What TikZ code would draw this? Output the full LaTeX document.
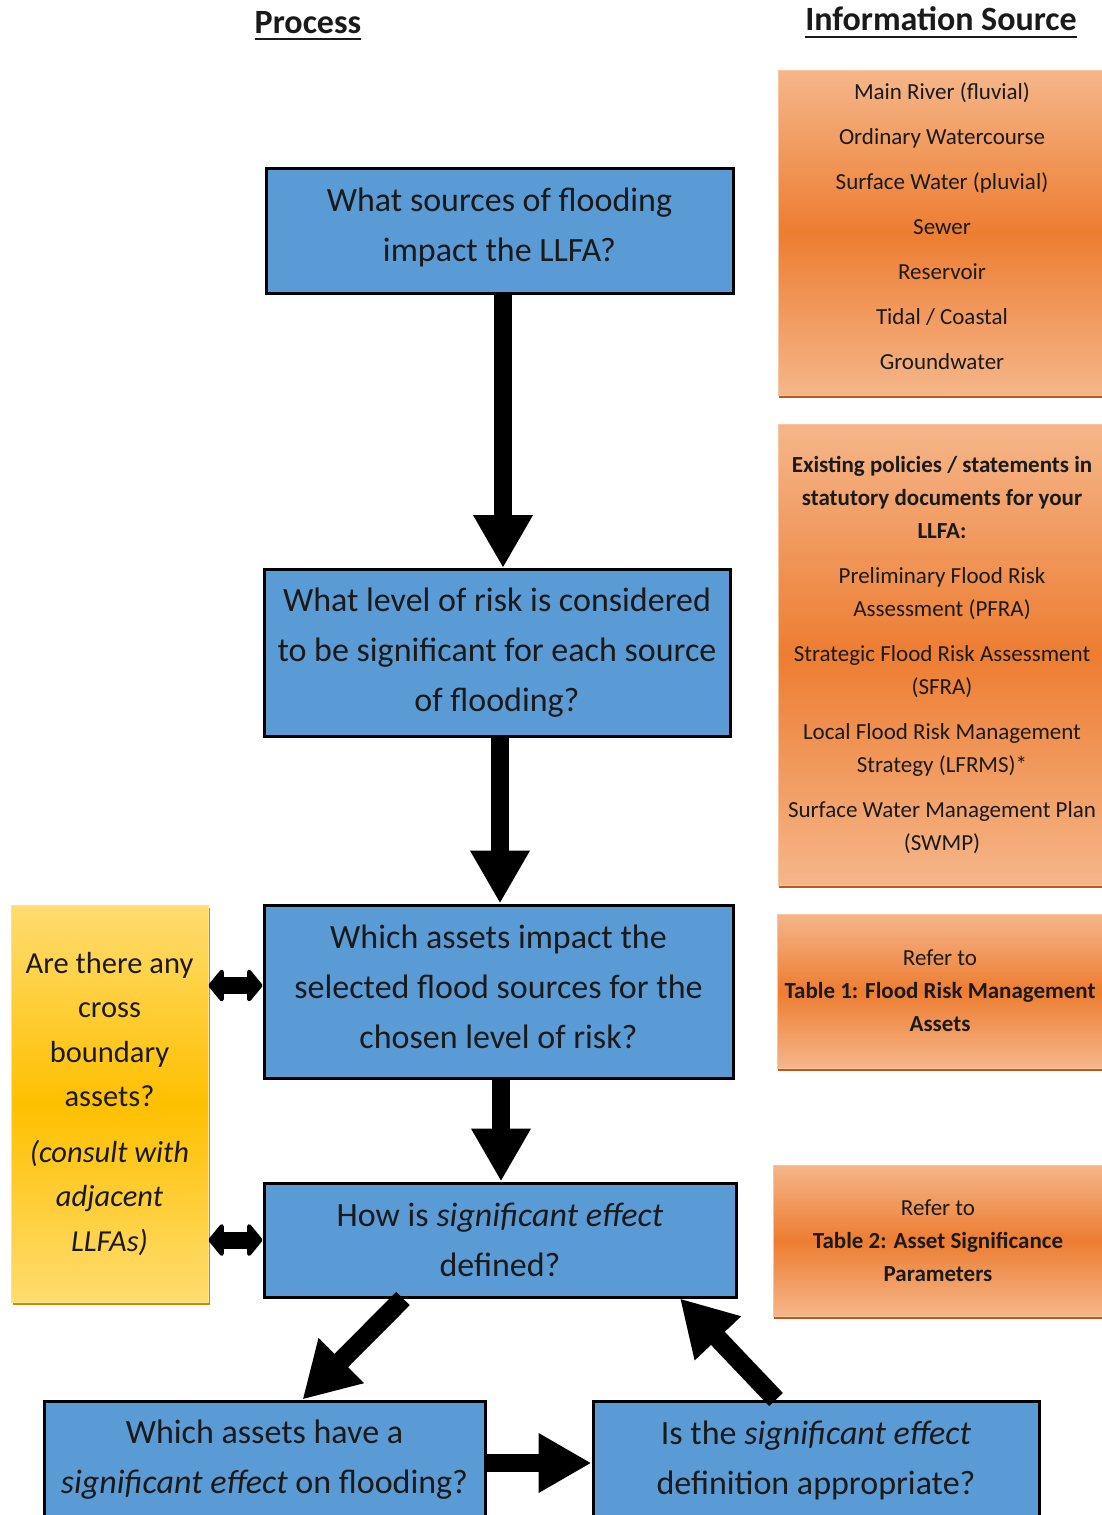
\documentclass[tikz,border=0pt]{standalone}
\usepackage{fontspec}
\setmainfont{Carlito}
\usetikzlibrary{arrows.meta,shadows,calc}
\definecolor{blueF}{HTML}{5B9BD5}
\definecolor{orL}{HTML}{F5B68A}
\definecolor{orD}{HTML}{ED7D31}
\definecolor{orS}{HTML}{B85A1E}
\definecolor{yeL}{HTML}{FFDC70}
\definecolor{yeD}{HTML}{FFC000}
\definecolor{yeS}{HTML}{C09000}
\definecolor{txt}{HTML}{1A1A1A}
\begin{document}
\begin{tikzpicture}[x=1pt,y=-1pt,
  bluebox/.style={draw=black, line width=3pt, fill=blueF, align=center, inner sep=0pt, text=txt,
     font=\fontsize{34}{50}\selectfont},
  bluetext/.style={align=center, inner sep=0pt, text=txt, font=\fontsize{34}{50}\selectfont},
  orbox/.style={draw=orL!80!white, line width=0.8pt, top color=orL, bottom color=orL, middle color=orD,
     align=center, inner sep=0pt, text=txt, font=\fontsize{23}{33}\selectfont,
     drop shadow={shadow xshift=1pt, shadow yshift=-3pt, fill=orS, opacity=1}},
  ortext/.style={align=center, inner sep=0pt, text=txt, font=\fontsize{23}{45}\selectfont},
  yebox/.style={draw=yeL!80!white, line width=0.8pt, top color=yeL, bottom color=yeL, middle color=yeD,
     align=center, inner sep=0pt, text=txt, font=\fontsize{30.5}{44.5}\selectfont,
     drop shadow={shadow xshift=1.5pt, shadow yshift=-3pt, fill=yeS, opacity=1}},
  head/.style={font=\fontsize{34}{40}\selectfont\bfseries, text=txt, inner sep=0pt, anchor=base},
  uline/.style={draw=txt, line width=2.6pt},
  bigarrow/.style={draw=black, line width=18pt, -{Triangle[length=53pt,width=56pt]}},
  diagarrow/.style={draw=black, line width=19pt, -{Triangle[length=55pt,width=60pt]}},
  dblarrow/.style={draw=black, line width=17pt,
     {Triangle[length=16pt,width=38pt,round]}-{Triangle[length=16pt,width=38pt,round]}}
]
\useasboundingbox (0,0) rectangle (1102,1515);
\clip (0,0) rectangle (1102,1515);
\fill[white] (0,0) rectangle (1102,1515);

% headers
\node[head] (hp) at (308,33) {Process};
\draw[uline] ($(hp.base west)+(0,6)$) -- ($(hp.base east)+(0,6)$);
\node[head] (hi) at (941,30) {Information Source};
\draw[uline] ($(hi.base west)+(0,7)$) -- ($(hi.base east)+(0,7)$);

% orange info boxes
\node[orbox, minimum width=328, minimum height=325] (O1) at (942,232.5) {};
\node[ortext] (O1t) at (942,226)
 {Main River (fluvial)\\Ordinary Watercourse\\Surface Water (pluvial)\\Sewer\\Reservoir\\Tidal / Coastal\\Groundwater};

\node[orbox, minimum width=328, minimum height=461] (O2) at (942,654.5)
 {\textbf{Existing policies / statements in}\\\textbf{statutory documents for your}\\\textbf{LLFA:}\\[12pt]
  Preliminary Flood Risk\\Assessment (PFRA)\\[12pt]
  Strategic Flood Risk Assessment\\(SFRA)\\[12pt]
  Local Flood Risk Management\\Strategy (LFRMS)*\\[12pt]
  Surface Water Management Plan\\(SWMP)};

\node[orbox, minimum width=326, minimum height=154] (O3) at (940,991)
 {Refer to\\\textbf{Table 1: Flood Risk Management}\\\textbf{Assets}};

\node[orbox, minimum width=330, minimum height=151] (O4) at (938,1240.5)
 {Refer to\\\textbf{Table 2: Asset Significance}\\\textbf{Parameters}};

% yellow box
\node[yebox, minimum width=197, minimum height=397] (Y) at (109.5,1103.5)
 {Are there any\\cross\\boundary\\assets?\\[11pt]\textit{(consult with}\\\textit{adjacent}\\\textit{LLFAs)}};

% blue process boxes
\node[bluebox, minimum width=467, minimum height=125] (B1) at (499.5,230.5) {};
\node[bluetext] (B1t) at (499.5,227.5) {What sources of flooding\\impact the LLFA?};
\node[bluebox, minimum width=466, minimum height=167] (B2) at (497,653)
 {What level of risk is considered\\to be significant for each source\\of flooding?};
\node[bluebox, minimum width=469, minimum height=173] (B3) at (498.5,991.5) {};
\node[bluetext] (B3t) at (498.5,986.5)
 {Which assets impact the\\selected flood sources for the\\chosen level of risk?};
\node[bluebox, minimum width=472, minimum height=114] (B4) at (500,1240)
 {How is \textit{significant effect}\\defined?};
\node[bluebox, minimum width=441, minimum height=118] (B5) at (264.5,1460)
 {Which assets have a\\\textit{significant effect} on flooding?};
\node[bluebox, minimum width=446, minimum height=118] (B6) at (816,1460)
 {Is the \textit{significant effect}\\definition appropriate?};

% connectors
\draw[bigarrow] ([xshift=3.5pt]B1.south) -- ([xshift=6pt]B2.north);
\draw[bigarrow] ([xshift=3pt]B2.south) -- ([xshift=1.5pt]B3.north);
\draw[bigarrow] ([xshift=2.5pt]B3.south) -- ([xshift=1pt]B4.north);
\draw[diagarrow] ([xshift=-97pt]B4.south) -- ([xshift=38pt]B5.north);
\draw[diagarrow] ([xshift=-40pt]B6.north) -- ([xshift=180pt]B4.south);
\draw[bigarrow] ($(B5.east)+(0,3)$) -- ($(B6.west)+(0,3)$);
\draw[dblarrow] ($(Y.east |- B3.west)+(0,-6)$) -- ($(B3.west)+(0,-6)$);
\draw[dblarrow] (Y.east |- B4.west) -- (B4.west);
\end{tikzpicture}
\end{document}
